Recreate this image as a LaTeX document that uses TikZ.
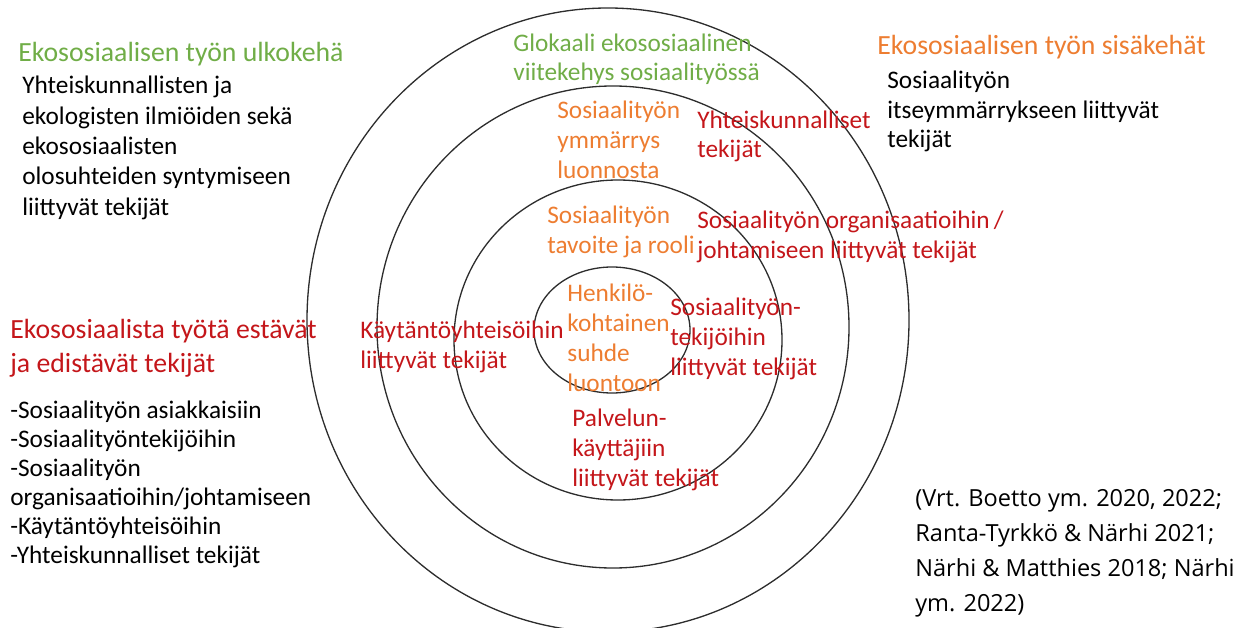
\documentclass[tikz,border=0pt]{standalone}
\usepackage{fontspec}
\setmainfont{Carlito}
\newfontfamily\citefont{Open Sans}
\usepackage{tikz}
\usetikzlibrary{positioning}

\definecolor{ekogreen}{RGB}{112,173,71}
\definecolor{ekoorange}{RGB}{237,125,49}
\definecolor{ekored}{RGB}{196,22,26}
\definecolor{ringgray}{RGB}{45,45,45}

\begin{document}
\begin{tikzpicture}[
    x=0.02cm, y=-0.02cm,
    ring/.style={draw=ringgray, line width=0.75pt},
    % base = viimeisen rivin perusviiva
    txt/.style={inner sep=0pt, anchor=base west, align=left, font=\fontsize{14.4}{17}\selectfont},
    heading/.style={inner sep=0pt, anchor=base west, align=left, font=\fontsize{15.8}{18.8}\selectfont},
    greentxt/.style={txt, text=ekogreen},
    orangetxt/.style={txt, text=ekoorange},
    redtxt/.style={txt, text=ekored},
    cite/.style={inner sep=0pt, anchor=base west, align=left, font=\citefont\fontsize{13.4}{19.9}\selectfont}
]
\useasboundingbox (0,0) rectangle (1246,628);

% Kehät
\draw[ring] (608,320) ellipse [x radius=301, y radius=312];
\draw[ring] (613,327) ellipse [x radius=236, y radius=241];
\draw[ring] (618,340) ellipse [x radius=164, y radius=160];
\draw[ring] (612,330) ellipse [x radius=78, y radius=63];

% Kehien tekstit
\node[greentxt] (glokaali) at (513,81) {Glokaali ekososiaalinen\\viitekehys sosiaalityössä};
\node[orangetxt] (ymmarrys) at (557,178) {Sosiaalityön\\ymmärrys\\luonnosta};
\node[redtxt] (yhteisk) at (697,158) {Yhteiskunnalliset\\tekijät};
\node[orangetxt] (tavoite) at (547,253) {Sosiaalityön\\tavoite ja rooli};
\node[redtxt] (organis) at (697,258) {Sosiaalityön organisaatioihin\,/\\johtamiseen liittyvät tekijät};
\node[orangetxt] (henkilo) at (567,391) {Henkilö-\\kohtainen\\suhde\\luontoon};
\node[redtxt] (tekijat) at (670,375) {Sosiaalityön-\\tekijöihin\\liittyvät tekijät};
\node[redtxt] (kaytanto) at (360,368) {Käytäntöyhteisöihin\\liittyvät tekijät};
\node[redtxt] (palvelu) at (572,486) {Palvelun-\\käyttäjiin\\liittyvät tekijät};

% Vasen laita
\node[heading, text=ekogreen] (ulko) at (18,62) {Ekososiaalisen työn ulkokehä};
\node[txt, font=\fontsize{14.4}{17.24}\selectfont] (ulkoteksti) at (22,215) {Yhteiskunnallisten ja\\ekologisten ilmiöiden sekä\\ekososiaalisten\\olosuhteiden syntymiseen\\liittyvät tekijät};
\node[heading, text=ekored] (este) at (10,372) {Ekososiaalista työtä estävät\\ja edistävät tekijät};
\node[txt, font=\fontsize{14.4}{16.5}\selectfont] (estelista) at (10,563) {-Sosiaalityön asiakkaisiin\\-Sosiaalityöntekijöihin\\-Sosiaalityön\\organisaatioihin/johtamiseen\\-Käytäntöyhteisöihin\\-Yhteiskunnalliset tekijät};

% Oikea laita
\node[heading, text=ekoorange] (sisa) at (877,55) {Ekososiaalisen työn sisäkehät};
\node[txt] (sisateksti) at (887,148) {Sosiaalityön\\itseymmärrykseen liittyvät\\tekijät};
\node[cite] (lahteet) at (915,611) {(Vrt. Boetto ym. 2020, 2022;\\Ranta-Tyrkkö \& Närhi 2021;\\Närhi \& Matthies 2018; Närhi\\ym. 2022)};
\end{tikzpicture}
\end{document}
